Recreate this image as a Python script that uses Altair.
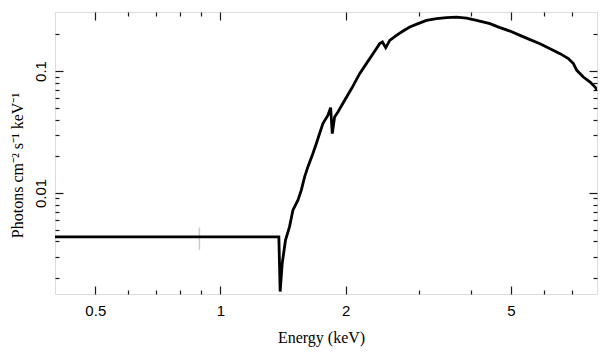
import altair as alt
import pandas as pd

# Unfolded spectrum
energy = [0.4, 1.382, 1.392, 1.408, 1.434, 1.466, 1.494, 1.536, 1.565, 1.594,
          1.623, 1.669, 1.701, 1.732, 1.764, 1.814, 1.841, 1.858, 1.882, 1.917,
          1.990, 2.069, 2.162, 2.244, 2.328, 2.416, 2.453, 2.498, 2.554, 2.651,
          2.750, 2.854, 2.988, 3.131, 3.310, 3.499, 3.698, 3.908, 4.132, 4.448,
          4.702, 4.971, 5.254, 5.554, 5.871, 6.206, 6.560, 6.869, 7.063, 7.197,
          7.464, 7.748, 7.965, 8.05]
flux = [0.00436, 0.00436, 0.00155, 0.00264, 0.0041, 0.00526, 0.00722, 0.00871, 0.01052, 0.01353,
        0.01633, 0.02104, 0.02541, 0.03069, 0.03706, 0.04334, 0.0501, 0.03069, 0.04197, 0.04613,
        0.05752, 0.0721, 0.0952, 0.115, 0.1388, 0.1677, 0.1729, 0.1555, 0.1785, 0.1962,
        0.2128, 0.2295, 0.2447, 0.2604, 0.2689, 0.274, 0.2771, 0.2719, 0.2604, 0.2447,
        0.2269, 0.2128, 0.1962, 0.1809, 0.1677, 0.1526, 0.1388, 0.1264, 0.115, 0.1013,
        0.0893, 0.0812, 0.0739, 0.07]

# faint error bar
err_energy = [0.89]
err_low = [0.0034]
err_high = [0.0052]

x_major = [0.5, 1, 2, 5]
x_minor = [0.6, 0.7, 0.8, 0.9, 3, 4, 6, 7]
y_major = [0.01, 0.1]
y_minor = [0.002, 0.003, 0.004, 0.005, 0.006, 0.007, 0.008, 0.009,
           0.02, 0.03, 0.04, 0.05, 0.06, 0.07, 0.08, 0.09, 0.2]

df = pd.DataFrame({"energy": energy, "flux": flux})
df_err = pd.DataFrame({"energy": err_energy, "lo": err_low, "hi": err_high})

xs = alt.Scale(type="log", domain=[0.4, 8.05], nice=False)
ys = alt.Scale(type="log", domain=[0.00148, 0.305], nice=False)

TICK = "#1a1a1a"
common = dict(grid=False, domain=False, tickColor=TICK, tickWidth=1.2,
              labelFlush=False, labelOverlap=False)


def ax(orient, values, size, labels=False, **kw):
    return alt.Axis(orient=orient, values=values, tickSize=size, offset=-size,
                    labels=labels, **common, **kw)


base = alt.Chart(df)

main = base.mark_line(color="black", strokeWidth=2.8, clip=True).encode(
    x=alt.X("energy:Q", scale=xs,
            axis=ax("bottom", x_major, 8, labels=True, format="~g",
                    labelFont="Liberation Sans", labelFontSize=15, labelColor="black",
                    labelPadding=9,
                    title="Energy (keV)", titleFont="Liberation Serif",
                    titleFontSize=16, titleFontWeight="normal", titleColor="black",
                    titleX=266, titleY=51, titleAlign="center",
                    titleBaseline="middle")),
    y=alt.Y("flux:Q", scale=ys,
            axis=ax("left", y_major, 8, labels=True, format="~g",
                    labelFont="Liberation Sans", labelFontSize=15, labelColor="black",
                    labelAngle=270, labelAlign="center", labelBaseline="bottom",
                    labelPadding=7,
                    title="Photons cm⁻² s⁻¹ keV⁻¹", titleFont="Liberation Serif",
                    titleFontSize=16, titleFontWeight="normal", titleColor="black",
                    titleAngle=270, titleX=-46, titleY=153, titleAlign="center",
                    titleBaseline="middle")),
)

minor_bl = base.mark_line(opacity=0).encode(
    x=alt.X("energy:Q", scale=xs, axis=ax("bottom", x_minor, 4, title=None)),
    y=alt.Y("flux:Q", scale=ys, axis=ax("left", y_minor, 4, title=None)),
)
major_tr = base.mark_line(opacity=0).encode(
    x=alt.X("energy:Q", scale=xs, axis=ax("top", x_major, 8, title=None)),
    y=alt.Y("flux:Q", scale=ys, axis=ax("right", y_major, 8, title=None)),
)
minor_tr = base.mark_line(opacity=0).encode(
    x=alt.X("energy:Q", scale=xs, axis=ax("top", x_minor, 4, title=None)),
    y=alt.Y("flux:Q", scale=ys, axis=ax("right", y_minor, 4, title=None)),
)

errs = alt.Chart(df_err).mark_rule(color="#cccccc", strokeWidth=1.5).encode(
    x=alt.X("energy:Q", scale=xs, axis=None),
    y=alt.Y("lo:Q", scale=ys, axis=None),
    y2="hi:Q",
)

chart = alt.layer(errs, main, minor_bl, major_tr, minor_tr).resolve_axis(
    x="independent", y="independent"
).properties(
    width=542, height=282,
    autosize=alt.AutoSizeParams(type="none"),
    padding={"left": 47, "top": 4, "right": 4, "bottom": 55},
).configure_view(stroke=TICK, strokeWidth=1.8).configure(background="white")

chart.save("out.html", embed_options={"renderer": "svg", "actions": False})
